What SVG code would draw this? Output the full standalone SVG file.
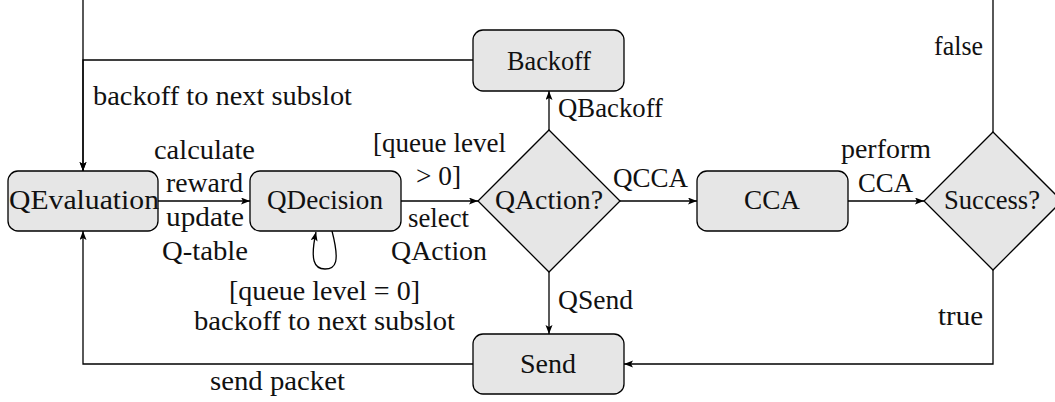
<svg xmlns="http://www.w3.org/2000/svg" width="1055" height="402" viewBox="0 0 1055 402">
<style>
.box{fill:#e6e6e6;stroke:#000;stroke-width:1.3}
.ln{fill:none;stroke:#000;stroke-width:1.3}
text{font-family:"Liberation Serif","DejaVu Serif",serif;font-size:27px;fill:#111}
</style>
<defs>
<marker id="ah" markerUnits="userSpaceOnUse" markerWidth="12" markerHeight="10" refX="9" refY="3.5" orient="auto">
<path d="M0,0 L9,3.5 L0,7 L2,3.5 z" fill="#000"/>
</marker>
</defs>
<rect width="1055" height="402" fill="#fff"/>
<g id="connectors">
<path class="ln" d="M158,201 H250" marker-end="url(#ah)"/>
<path class="ln" d="M401,201 H478" marker-end="url(#ah)"/>
<path class="ln" d="M620,201 H697" marker-end="url(#ah)"/>
<path class="ln" d="M848,201 H924" marker-end="url(#ah)"/>
<path class="ln" d="M549,130 V91" marker-end="url(#ah)"/>
<path class="ln" d="M549,272 V334" marker-end="url(#ah)"/>
<path class="ln" d="M473,60 H83 V171" marker-end="url(#ah)"/>
<path class="ln" d="M993,132 V-20 H83 V171" marker-end="url(#ah)"/>
<path class="ln" d="M993,269 V364 H624" marker-end="url(#ah)"/>
<path class="ln" d="M473,364 H83 V231" marker-end="url(#ah)"/>
<path class="ln" d="M332,231 C340,262 336,269 325,269 C314,269 310,260 316,232" marker-end="url(#ah)"/>
<text x="93" y="105" textLength="259" lengthAdjust="spacingAndGlyphs">backoff to next subslot</text>
<text x="154" y="159" textLength="101" lengthAdjust="spacingAndGlyphs">calculate</text>
<text x="166" y="192" textLength="77" lengthAdjust="spacingAndGlyphs">reward</text>
<text x="166" y="226" textLength="78" lengthAdjust="spacingAndGlyphs">update</text>
<text x="162" y="260" textLength="86" lengthAdjust="spacingAndGlyphs">Q-table</text>
<text x="373" y="152" textLength="133" lengthAdjust="spacingAndGlyphs">[queue level</text>
<text x="416" y="185" textLength="45" lengthAdjust="spacingAndGlyphs">&gt; 0]</text>
<text x="408" y="227" textLength="61" lengthAdjust="spacingAndGlyphs">select</text>
<text x="391" y="260" textLength="96" lengthAdjust="spacingAndGlyphs">QAction</text>
<text x="613" y="187" textLength="75" lengthAdjust="spacingAndGlyphs">QCCA</text>
<text x="558" y="117" textLength="105" lengthAdjust="spacingAndGlyphs">QBackoff</text>
<text x="558" y="309" textLength="75" lengthAdjust="spacingAndGlyphs">QSend</text>
<text x="841" y="158" textLength="90" lengthAdjust="spacingAndGlyphs">perform</text>
<text x="858" y="192" textLength="55" lengthAdjust="spacingAndGlyphs">CCA</text>
<text x="934" y="55" textLength="49" lengthAdjust="spacingAndGlyphs">false</text>
<text x="938" y="325" textLength="45" lengthAdjust="spacingAndGlyphs">true</text>
<text x="229" y="300" textLength="191" lengthAdjust="spacingAndGlyphs">[queue level = 0]</text>
<text x="194" y="330" textLength="261" lengthAdjust="spacingAndGlyphs">backoff to next subslot</text>
<text x="210" y="390" textLength="135" lengthAdjust="spacingAndGlyphs">send packet</text>
</g>
<g id="QEvaluation">
<rect class="box" x="8" y="171" width="150" height="60" rx="10"/>
<text x="9" y="209" textLength="150" lengthAdjust="spacingAndGlyphs">QEvaluation</text>
</g>
<g id="QDecision">
<rect class="box" x="250" y="171" width="151" height="60" rx="10"/>
<text x="267" y="209" textLength="116" lengthAdjust="spacingAndGlyphs">QDecision</text>
</g>
<g id="QAction">
<polygon class="box" points="549,130 620,201 549,272 478,201"/>
<text x="495" y="209" textLength="108" lengthAdjust="spacingAndGlyphs">QAction?</text>
</g>
<g id="Backoff">
<rect class="box" x="473" y="30" width="151" height="61" rx="10"/>
<text x="507" y="70" textLength="84" lengthAdjust="spacingAndGlyphs">Backoff</text>
</g>
<g id="CCA">
<rect class="box" x="697" y="171" width="151" height="60" rx="10"/>
<text x="744" y="209" textLength="56" lengthAdjust="spacingAndGlyphs">CCA</text>
</g>
<g id="Success">
<polygon class="box" points="993,132 1062,201 993,270 924,201"/>
<text x="944" y="209" textLength="96" lengthAdjust="spacingAndGlyphs">Success?</text>
</g>
<g id="Send">
<rect class="box" x="473" y="334" width="151" height="60" rx="10"/>
<text x="520" y="373" textLength="56" lengthAdjust="spacingAndGlyphs">Send</text>
</g>
</svg>
